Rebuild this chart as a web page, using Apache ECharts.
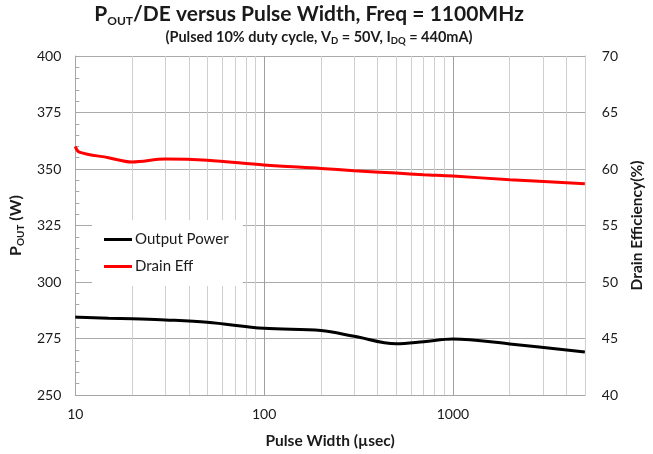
<!DOCTYPE html>
<html>
<head>
<meta charset="utf-8">
<script src="https://cdn.jsdelivr.net/npm/echarts@6/dist/echarts.min.js"></script>
<style>
html,body{margin:0;padding:0;background:#fff;}
#chart{width:653px;height:454px;}
</style>
</head>
<body>
<div id="chart"></div>
<script>
// ---- data ----
const pulseWidth = [10, 10.5, 15, 20, 30, 50, 100, 200, 300, 500, 700, 1000, 2000, 5000];
const outputPower = [284.5, 284.4, 284.0, 283.7, 283.2, 282.2, 279.5, 278.5, 276.0, 272.7, 273.6, 274.8, 272.6, 269.0];
const drainEff = [62.0, 61.5, 61.0, 60.62, 60.88, 60.78, 60.35, 60.05, 59.85, 59.64, 59.5, 59.38, 59.05, 58.7];
const leftTicks = [250, 275, 300, 325, 350, 375, 400];
const rightTicks = [40, 45, 50, 55, 60, 65, 70];
const xMinorGrid = [20, 30, 40, 50, 60, 70, 80, 90, 200, 300, 400, 500, 600, 700, 800, 900, 2000, 3000, 4000, 5000];

const FONT = 'Lato, "Open Sans", sans-serif';
const TXT = '#1a1a1a';

const chart = echarts.init(document.getElementById('chart'));
const option = {
  animation: false,
  backgroundColor: '#fff',
  textStyle: { fontFamily: FONT },
  graphic: [
    {
      type: 'text',
      x: 309, y: 14,
      style: {
        text: '{b|P}{s|OUT}{b|/DE versus Pulse Width, Freq = 1100MHz}',
        align: 'center', verticalAlign: 'middle',
        rich: {
          b: { fontFamily: FONT, fontWeight: 'bold', fontSize: 21, fill: TXT, lineHeight: 26, verticalAlign: 'middle' },
          s: { fontFamily: FONT, fontWeight: 'bold', fontSize: 12, fill: TXT, lineHeight: 12, verticalAlign: 'bottom' }
        }
      }
    },
    {
      type: 'text',
      x: 319, y: 37,
      style: {
        text: '{b|(Pulsed 10% duty cycle, V}{s|D}{b| = 50V, I}{s|DQ}{b| = 440mA)}',
        align: 'center', verticalAlign: 'middle',
        rich: {
          b: { fontFamily: FONT, fontWeight: 'bold', fontSize: 14.5, fill: TXT, lineHeight: 18, verticalAlign: 'middle' },
          s: { fontFamily: FONT, fontWeight: 'bold', fontSize: 9.5, fill: TXT, lineHeight: 8, verticalAlign: 'bottom' }
        }
      }
    }
  ],
  legend: {
    orient: 'vertical',
    left: 92, top: 220,
    padding: [12, 14, 12, 12],
    itemGap: 12,
    itemWidth: 28, itemHeight: 3,
    icon: 'rect',
    backgroundColor: '#fff',
    textStyle: { fontFamily: FONT, fontSize: 15, color: TXT, padding: [0, 0, 0, -2] },
    data: ['Output Power', 'Drain Eff']
  },
  grid: { left: 72, right: 66, top: 56, bottom: 59, containLabel: false },
  xAxis: {
    type: 'log', logBase: 10, min: 10, max: 5000,
    name: 'Pulse Width (µsec)', nameLocation: 'middle', nameGap: 38,
    nameTextStyle: { fontFamily: FONT, fontWeight: 'bold', fontSize: 15.5, color: TXT },
    axisLine: { show: true, lineStyle: { color: '#a6a6a6', width: 1 } },
    axisTick: { show: false },
    axisLabel: { fontFamily: FONT, fontSize: 14, color: TXT, margin: 12, showMaxLabel: false,
      formatter: v => String(Math.round(v)) },
    splitLine: { show: true, lineStyle: { color: '#a0a0a0', width: 1 } }
  },
  yAxis: [
    {
      type: 'value', min: 250, max: 400, interval: 25, position: 'left',
      name: '{b|P}{s|OUT}{b| (W)}', nameLocation: 'middle', nameRotate: 90, nameGap: 44,
      nameTextStyle: {
        rich: {
          b: { fontFamily: FONT, fontWeight: 'bold', fontSize: 16, color: TXT, lineHeight: 20, verticalAlign: 'middle' },
          s: { fontFamily: FONT, fontWeight: 'bold', fontSize: 10, color: TXT, lineHeight: 10, verticalAlign: 'bottom' }
        }
      },
      axisLine: { show: true, lineStyle: { color: '#a6a6a6', width: 1 } },
      axisTick: { show: true, inside: true, length: 4, lineStyle: { color: '#a6a6a6' } },
      minorTick: { show: true, splitNumber: 5, length: 4, lineStyle: { color: '#a6a6a6' } },
      axisLabel: { fontFamily: FONT, fontSize: 14, color: TXT, margin: 14 },
      splitLine: { show: true, lineStyle: { color: '#aaaaaa', width: 1 } }
    },
    {
      type: 'value', min: 40, max: 70, interval: 5, position: 'right',
      name: 'Drain Efficiency(%)', nameLocation: 'middle', nameRotate: 90, nameGap: 40,
      nameTextStyle: { fontFamily: FONT, fontWeight: 'bold', fontSize: 15.5, color: TXT },
      axisLine: { show: true, lineStyle: { color: '#a6a6a6', width: 1 } },
      axisTick: { show: true, inside: true, length: 4, lineStyle: { color: '#a6a6a6' } },
      axisLabel: { fontFamily: FONT, fontSize: 14, color: TXT, margin: 17 },
      splitLine: { show: false }
    }
  ],
  series: [
    {
      name: 'Output Power', type: 'line', yAxisIndex: 0,
      data: pulseWidth.map((x, i) => [x, outputPower[i]]),
      smooth: 0.35, showSymbol: false, symbol: 'none',
      lineStyle: { color: '#000000', width: 3 }, itemStyle: { color: '#000000' },
      z: 3,
      markLine: {
        silent: true, symbol: 'none', label: { show: false },
        lineStyle: { color: '#cfcfcf', width: 1, type: 'solid' },
        data: xMinorGrid.map(v => ({ xAxis: v })),
        z: 1
      }
    },
    {
      name: 'Drain Eff', type: 'line', yAxisIndex: 1,
      data: pulseWidth.map((x, i) => [x, drainEff[i]]),
      smooth: 0.35, showSymbol: false, symbol: 'none',
      lineStyle: { color: '#ff0000', width: 3 }, itemStyle: { color: '#ff0000' },
      z: 3
    }
  ]
};
chart.setOption(option);
</script>
</body>
</html>
